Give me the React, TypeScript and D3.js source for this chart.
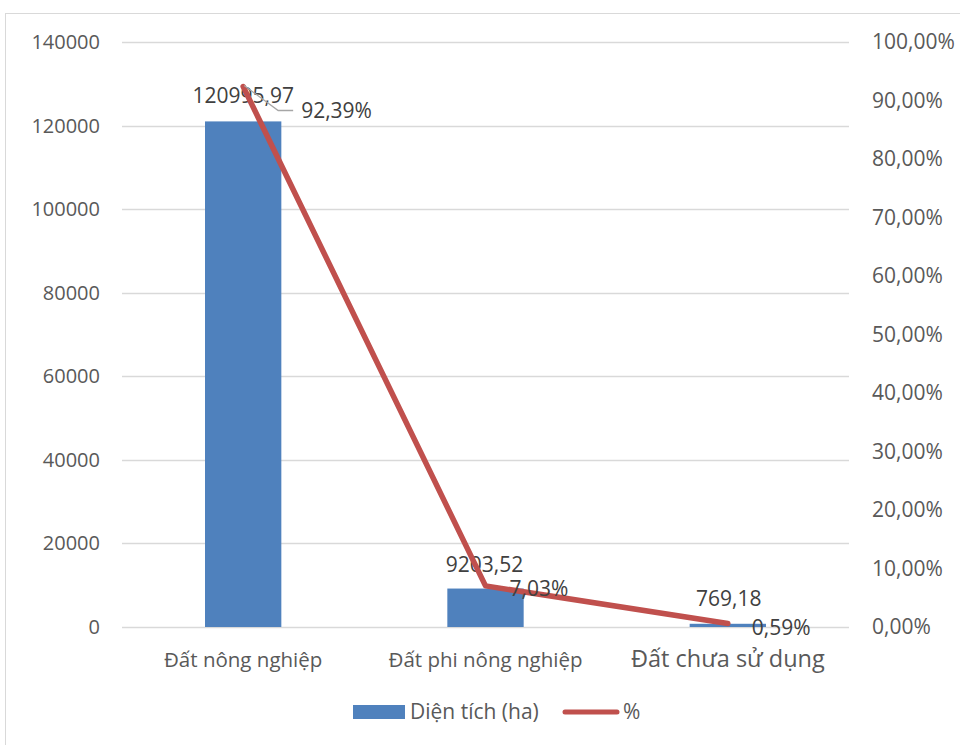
import React, { useEffect, useRef } from 'react';
import * as d3 from 'd3';

const categories = ['Đất nông nghiệp', 'Đất phi nông nghiệp', 'Đất chưa sử dụng'];
const areaValues = [120995.97, 9203.52, 769.18];
const percentValues = [92.39, 7.03, 0.59];
const areaLabels = ['120995,97', '9203,52', '769,18'];
const percentLabels = ['92,39%', '7,03%', '0,59%'];
const leftTicks = [0, 20000, 40000, 60000, 80000, 100000, 120000, 140000];
const rightTicks = [0, 10, 20, 30, 40, 50, 60, 70, 80, 90, 100];

const FONT = '"Open Sans", "Noto Sans", sans-serif';

const App = () => {
  const ref = useRef<SVGSVGElement>(null);

  useEffect(() => {
    const svg = d3.select(ref.current);
    svg.selectAll('*').remove();

    const W = 960;
    const H = 745;
    const left = 122;
    const right = 849;
    const top = 42;
    const bottom = 627;

    svg.attr('width', W).attr('height', H);

    // chart border
    svg.append('rect')
      .attr('x', 5.5).attr('y', 13.5)
      .attr('width', 1000).attr('height', 800)
      .attr('fill', 'white').attr('stroke', '#D9D9D9').attr('stroke-width', 1);

    const x = d3.scaleBand().domain(categories).range([left, right]).paddingInner(0.685).paddingOuter(0.3425);
    const y = d3.scaleLinear().domain([0, 140000]).range([bottom, top]);
    const y2 = d3.scaleLinear().domain([0, 100]).range([bottom, top]);

    // gridlines
    svg.append('g').selectAll('line').data(leftTicks).enter().append('line')
      .attr('x1', left).attr('x2', right)
      .attr('y1', d => Math.round(y(d)) + 0.5).attr('y2', d => Math.round(y(d)) + 0.5)
      .attr('stroke', '#D9D9D9').attr('stroke-width', 1.5);

    // left axis labels
    svg.append('g').selectAll('text').data(leftTicks).enter().append('text')
      .attr('x', 100).attr('y', d => y(d) + 7)
      .attr('text-anchor', 'end')
      .attr('font-family', FONT).attr('font-size', 20).attr('fill', '#595959')
      .text(d => String(d));

    // right axis labels
    svg.append('g').selectAll('text').data(rightTicks).enter().append('text')
      .attr('x', 872).attr('y', d => y2(d) + 7)
      .attr('font-family', FONT).attr('font-size', 21).attr('fill', '#595959')
      .text(d => d.toFixed(2).replace('.', ',') + '%');

    // category labels
    const catSize = [20.5, 20.5, 23.5];
    svg.append('g').selectAll('text').data(categories).enter().append('text')
      .attr('x', d => (x(d) as number) + x.bandwidth() / 2).attr('y', 667)
      .attr('text-anchor', 'middle')
      .attr('font-family', FONT).attr('font-size', (d, i) => catSize[i]).attr('fill', '#595959')
      .text(d => d);

    // bars
    svg.append('g').selectAll('rect').data(areaValues).enter().append('rect')
      .attr('x', (d, i) => x(categories[i]) as number)
      .attr('y', d => y(d))
      .attr('width', x.bandwidth())
      .attr('height', d => bottom - y(d))
      .attr('fill', '#4F81BD');

    const cx = (i: number) => (x(categories[i]) as number) + x.bandwidth() / 2;

    // bar labels
    svg.append('g').selectAll('text').data(areaLabels).enter().append('text')
      .attr('x', (d, i) => cx(i) + [0, -1, 1][i])
      .attr('y', (d, i) => y(areaValues[i]) - [18, 17, 18][i])
      .attr('text-anchor', 'middle')
      .attr('font-family', FONT).attr('font-size', 21).attr('fill', '#404040')
      .text(d => d);

    // line
    const line = d3.line<number>().x((d, i) => cx(i)).y(d => y2(d));
    svg.append('path').datum(percentValues)
      .attr('d', line)
      .attr('fill', 'none').attr('stroke', '#C0504D').attr('stroke-width', 5.5)
      .attr('stroke-linecap', 'round').attr('stroke-linejoin', 'round');

    // leader line for first percent label
    const p0x = cx(0);
    const p0y = y2(percentValues[0]);
    svg.append('path')
      .attr('d', `M${p0x + 1},${p0y - 1}L${p0x + 35},${p0y + 24}L${p0x + 50},${p0y + 24}`)
      .attr('fill', 'none').attr('stroke', '#A6A6A6').attr('stroke-width', 1.3);

    // percent labels
    const pOff = [[58, 31], [24, 10], [24, 11]];
    svg.append('g').selectAll('text').data(percentLabels).enter().append('text')
      .attr('x', (d, i) => cx(i) + pOff[i][0])
      .attr('y', (d, i) => y2(percentValues[i]) + pOff[i][1])
      .attr('font-family', FONT).attr('font-size', 21).attr('fill', '#404040')
      .text(d => d);

    // legend
    const lg = svg.append('g');
    lg.append('rect').attr('x', 353).attr('y', 705).attr('width', 52).attr('height', 14).attr('fill', '#4F81BD');
    lg.append('text').attr('x', 410).attr('y', 719)
      .attr('font-family', FONT).attr('font-size', 21).attr('fill', '#595959').text('Diện tích (ha)');
    lg.append('line').attr('x1', 565).attr('x2', 617).attr('y1', 712).attr('y2', 712)
      .attr('stroke', '#C0504D').attr('stroke-width', 5).attr('stroke-linecap', 'round');
    lg.append('text').attr('x', 623).attr('y', 719)
      .attr('font-family', FONT).attr('font-size', 21).attr('fill', '#595959').text('%');
  }, []);

  return <svg ref={ref} style={{ position: 'absolute', left: 0, top: 0 }}></svg>;
};

export default App;
